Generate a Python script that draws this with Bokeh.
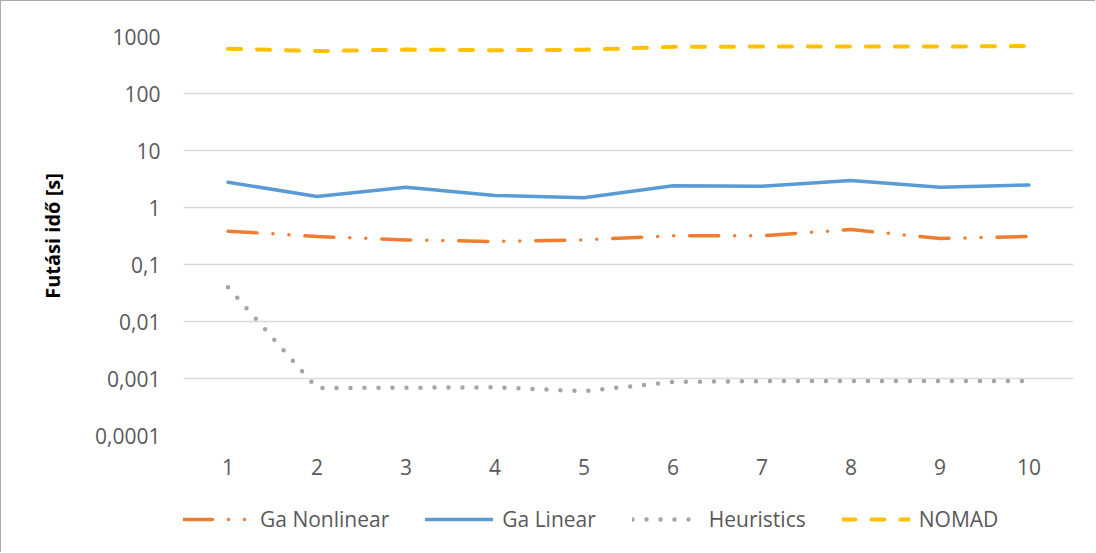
from bokeh.plotting import figure
from bokeh.layouts import column
from bokeh.models import (Range1d, FactorRange, FixedTicker, CustomJSTickFormatter,
                          Legend, LegendItem, ColumnDataSource)
from bokeh.embed import file_html
from bokeh.resources import INLINE

# ---- data ----
runs = ["1", "2", "3", "4", "5", "6", "7", "8", "9", "10"]
ga_nonlinear = [0.385, 0.31, 0.27, 0.253, 0.27, 0.318, 0.32, 0.41, 0.286, 0.31]
ga_linear = [2.78, 1.56, 2.27, 1.63, 1.48, 2.40, 2.37, 2.98, 2.27, 2.48]
heuristics = [0.04, 0.00068, 0.00069, 0.0007, 0.0006, 0.00087, 0.0009, 0.0009, 0.0009, 0.0009]
nomad = [610, 555, 590, 575, 585, 660, 665, 670, 665, 680]
series_names = ["Ga Nonlinear", "Ga Linear", "Heuristics", "NOMAD"]
y_ticks = [0.0001, 0.001, 0.01, 0.1, 1, 10, 100, 1000]
y_label = "Futási idő [s]"

FONT = "Open Sans"
TICK_COLOR = "#595959"
styles = [
    dict(line_color="#ED7D31", line_width=3.5, line_dash="29 16 0 16 0 16", line_cap="round"),
    dict(line_color="#5B9BD5", line_width=3.5, line_cap="round", line_join="round"),
    dict(line_color="#A5A5A5", line_width=4.5, line_dash="0 14", line_cap="round"),
    dict(line_color="#FFC000", line_width=4, line_dash="13 16", line_cap="round"),
]

p = figure(width=1095, height=490, x_range=FactorRange(*runs),
           y_range=Range1d(0.0001, 1000), y_axis_type="log",
           output_backend="svg", toolbar_location=None,
           min_border_left=182, min_border_top=35, min_border_right=23,
           min_border_bottom=56)
p.styles = {"border-top": "1px solid #aaaaaa", "border-left": "1px solid #aaaaaa"}
p.outline_line_color = None
p.background_fill_color = "white"
p.border_fill_color = "white"

src = ColumnDataSource(dict(x=runs, gnl=ga_nonlinear, gl=ga_linear, h=heuristics, n=nomad))
for col, st in zip(["gnl", "gl", "h", "n"], styles):
    p.line("x", col, source=src, **st)

# axes
p.yaxis.ticker = FixedTicker(ticks=y_ticks)
p.yaxis.formatter = CustomJSTickFormatter(
    code="if (tick >= 1) { return tick.toFixed(0); } return tick.toString().replace('.', ',');")
for ax in (p.xaxis[0], p.yaxis[0]):
    ax.axis_line_color = None
    ax.major_tick_line_color = None
    ax.minor_tick_line_color = None
    ax.major_label_text_font = FONT
    ax.major_label_text_font_size = "21px"
    ax.major_label_text_color = TICK_COLOR
p.yaxis.major_label_standoff = 17
p.xaxis.major_label_standoff = 17
p.yaxis.axis_label = y_label
p.yaxis.axis_label_text_font = FONT
p.yaxis.axis_label_text_font_style = "bold"
p.yaxis.axis_label_text_font_size = "20px"
p.yaxis.axis_label_text_color = "black"
p.yaxis.axis_label_standoff = 26

p.xgrid.grid_line_color = None
p.ygrid.grid_line_color = "#d9d9d9"
p.ygrid.grid_line_width = 1.5

# legend strip (same line styles, renderers carry no visible data)
lg = figure(width=1095, height=62, x_range=Range1d(0, 1), y_range=Range1d(0, 1),
            output_backend="svg", toolbar_location=None,
            x_axis_location=None, y_axis_location=None, min_border=0)
lg.styles = {"border-left": "1px solid #aaaaaa"}
lg.outline_line_color = None
lg.xgrid.grid_line_color = None
lg.ygrid.grid_line_color = None
nan = float("nan")
items = []
for name, st in zip(series_names, styles):
    r = lg.line(x=[nan], y=[nan], **st)
    items.append(LegendItem(label=name, renderers=[r]))

legend = Legend(items=items, orientation="horizontal", location=(0, 19),
                glyph_width=68, glyph_height=24, label_height=24,
                label_standoff=9, spacing=36, padding=0, margin=0,
                border_line_color=None, background_fill_alpha=0,
                label_text_font=FONT, label_text_font_size="21px",
                label_text_color=TICK_COLOR)
lg.add_layout(legend, "center")

layout = column(p, lg, spacing=0)
open("out.html", "w").write(file_html(layout, INLINE))
